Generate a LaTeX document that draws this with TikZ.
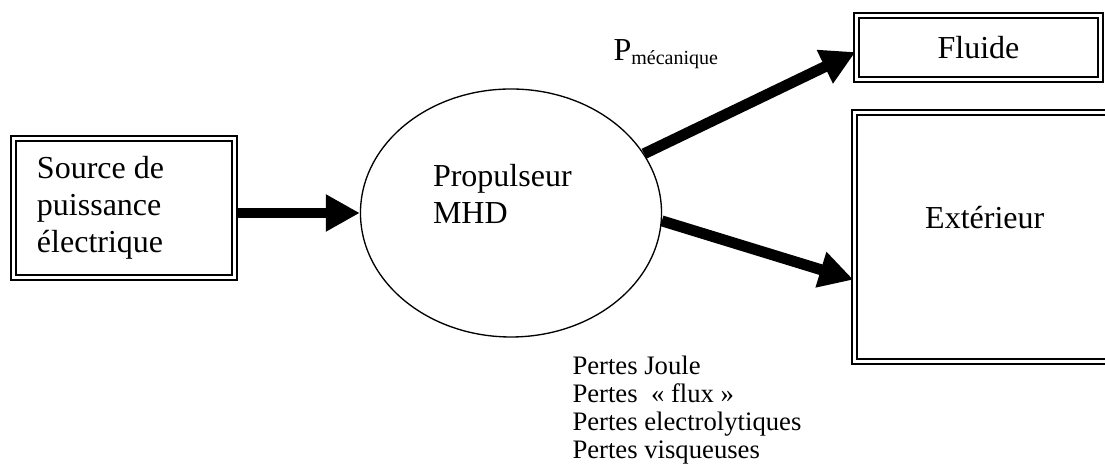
\documentclass[tikz,border=0pt]{standalone}
\usepackage{fontspec}
\setmainfont{Liberation Serif}
\usetikzlibrary{shapes.geometric,arrows.meta}
\newcommand\boxfont{\fontsize{12pt}{13.8pt}\selectfont}
\newcommand\lossfont{\fontsize{10pt}{10.5pt}\selectfont}
\tikzset{
  dblbox/.style={draw, double, double distance=1pt, line width=0.8pt, inner sep=0pt},
  bigarrow/.style={line width=4.1pt, -{Triangle[length=12.75pt,width=13.1pt]}},
}
\begin{document}
\begin{tikzpicture}[x=0.375pt, y=-0.375pt, every node/.style={font=\boxfont}]
  \useasboundingbox (0,0) rectangle (1105,468);
  \clip (0,0) rectangle (1105,468);
  \node[dblbox, minimum width=82.9pt, minimum height=52.1pt, align=flush left, text width=65.25pt] (src) at (124,208) {Source de\\puissance\\électrique};
  \node[draw, ellipse, line width=0.5pt, minimum width=112.9pt, minimum height=93pt, inner sep=0pt] (prop) at (511,213) {};
  \node[align=flush left, text width=58.5pt, inner sep=0pt] (proplbl) at (511,194) {Propulseur\\MHD};
  \node[dblbox, minimum width=91.5pt, minimum height=24pt] (fluide) at (978.5,47.5) {Fluide};
  \node[dblbox, minimum width=97.7pt, minimum height=93.4pt, text height=8pt, text depth=14pt] (ext) at (984.75,237) {Extérieur};
  \node[anchor=base west, inner sep=0pt] (pmeca) at (613,61) {P\raisebox{-1.5pt}{\fontsize{7.5pt}{9pt}\selectfont mécanique}};
  \node[anchor=north west, inner sep=0pt, align=left, font=\lossfont] (pertes) at (572,355) {Pertes Joule\\Pertes\ \ « flux »\\Pertes electrolytiques\\Pertes visqueuses};
  \draw[bigarrow] (src.east |- prop.west) -- (prop.west);
  \draw[bigarrow] (prop.24.5) -- ([yshift=-1.7pt]fluide.west);
  \draw[bigarrow] (prop.-3) -- ([yshift=-16pt]ext.west);
\end{tikzpicture}
\end{document}
